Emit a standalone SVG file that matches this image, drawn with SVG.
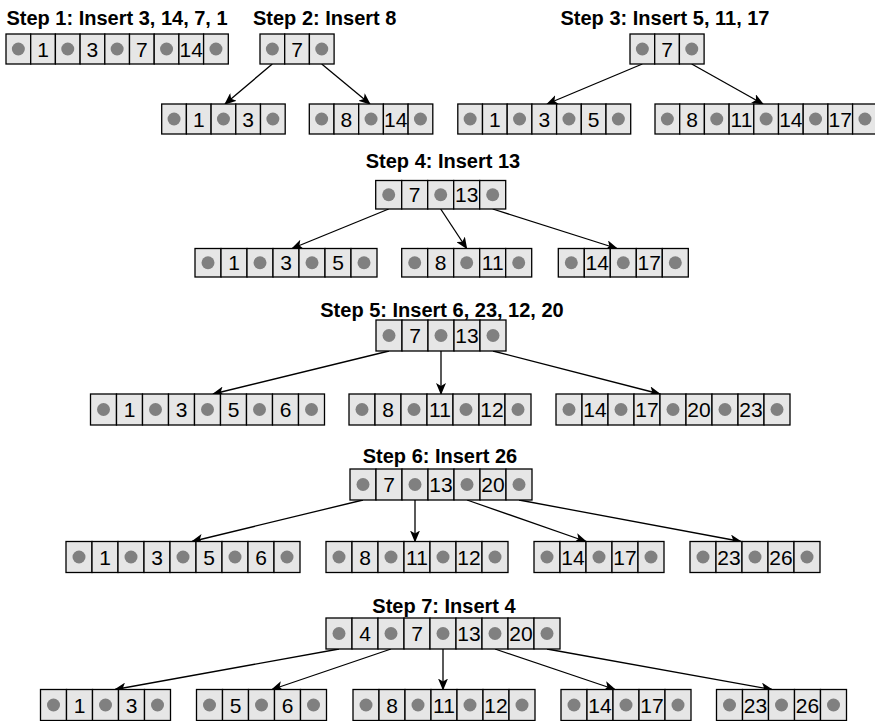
<svg xmlns="http://www.w3.org/2000/svg" xmlns:xlink="http://www.w3.org/1999/xlink" width="875" height="721" viewBox="0 0 875 721">
<style>
.c{fill:#e6e6e6;stroke:#000;stroke-width:1.3}
.d{fill:#808080}
.k{font-family:"Liberation Sans",Arial,sans-serif;font-size:21px;text-anchor:middle;fill:#000}
.t{font-family:"Liberation Sans",Arial,sans-serif;font-size:20px;font-weight:bold;text-anchor:middle;fill:#000}
.e{stroke:#000;stroke-width:1.3;fill:none;marker-end:url(#ah)}
</style>
<defs>
<marker id="ah" viewBox="0 0 12 10" refX="11" refY="5" markerWidth="12" markerHeight="10" markerUnits="userSpaceOnUse" orient="auto"><path d="M0,0 L12,5 L0,10 L3,5 Z" fill="#000"/></marker>
<g id="pa"><rect class="c" width="24.7" height="30"/><circle class="d" cx="12.35" cy="15" r="6.5"/></g>
<rect id="ka" class="c" width="24.7" height="30"/>
<g id="pb"><rect class="c" width="26" height="28.5"/><circle class="d" cx="13" cy="14.25" r="6.5"/></g>
<rect id="kb" class="c" width="26" height="28.5"/>
<g id="pc"><rect class="c" width="26" height="31"/><circle class="d" cx="13" cy="15.5" r="6.5"/></g>
<rect id="kc" class="c" width="26" height="31"/>
</defs>

<g id="titles">
<text class="t" x="117" y="25">Step 1: Insert 3, 14, 7, 1</text>
<text class="t" x="253" y="25" style="text-anchor:start">Step 2: Insert 8</text>
<text class="t" x="665" y="25">Step 3: Insert 5, 11, 17</text>
<text class="t" x="443" y="167.5">Step 4: Insert 13</text>
<text class="t" x="442" y="317">Step 5: Insert 6, 23, 12, 20</text>
<text class="t" x="440" y="462.5">Step 6: Insert 26</text>
<text class="t" x="444" y="612.5">Step 7: Insert 4</text>
</g>

<g id="connectors">
<path class="e" d="M272.3,64 L225,104"/>
<path class="e" d="M321.7,64 L370,104"/>
<path class="e" d="M642.3,64 L547,104"/>
<path class="e" d="M691.7,64 L763,104"/>
<path class="e" d="M388.7,209 L292,248.5"/>
<path class="e" d="M440.7,209 L466.7,248.5"/>
<path class="e" d="M492.7,209 L617,248.5"/>
<path class="e" d="M389,351 L213,394"/>
<path class="e" d="M441,351 L441,394"/>
<path class="e" d="M493,351 L660,394"/>
<path class="e" d="M363,500 L192,541.5"/>
<path class="e" d="M415,500 L415,541.5"/>
<path class="e" d="M467,500 L586,541.5"/>
<path class="e" d="M519,500 L741,541.5"/>
<path class="e" d="M339,649 L115,689.5"/>
<path class="e" d="M391,649 L272,689.5"/>
<path class="e" d="M443,649 L443,689.5"/>
<path class="e" d="M495,649 L615,689.5"/>
<path class="e" d="M547,649 L772,689.5"/>
</g>

<g id="s1-node" transform="translate(6,34)">
<use href="#pa" x="0"/><use href="#ka" x="24.7"/><use href="#pa" x="49.4"/><use href="#ka" x="74.1"/><use href="#pa" x="98.8"/><use href="#ka" x="123.5"/><use href="#pa" x="148.2"/><use href="#ka" x="172.9"/><use href="#pa" x="197.6"/>
<text class="k" x="37.05" y="22.5">1</text><text class="k" x="86.45" y="22.5">3</text><text class="k" x="135.85" y="22.5">7</text><text class="k" x="185.25" y="22.5">14</text>
</g>

<g id="s2-root" transform="translate(260,34)">
<use href="#pa" x="0"/><use href="#ka" x="24.7"/><use href="#pa" x="49.4"/>
<text class="k" x="37.05" y="22.5">7</text>
</g>
<g id="s2-left" transform="translate(161.7,104)">
<use href="#pa" x="0"/><use href="#ka" x="24.7"/><use href="#pa" x="49.4"/><use href="#ka" x="74.1"/><use href="#pa" x="98.8"/>
<text class="k" x="37.05" y="22.5">1</text><text class="k" x="86.45" y="22.5">3</text>
</g>
<g id="s2-right" transform="translate(309.3,104)">
<use href="#pa" x="0"/><use href="#ka" x="24.7"/><use href="#pa" x="49.4"/><use href="#ka" x="74.1"/><use href="#pa" x="98.8"/>
<text class="k" x="37.05" y="22.5">8</text><text class="k" x="86.45" y="22.5">14</text>
</g>

<g id="s3-root" transform="translate(630,34)">
<use href="#pa" x="0"/><use href="#ka" x="24.7"/><use href="#pa" x="49.4"/>
<text class="k" x="37.05" y="22.5">7</text>
</g>
<g id="s3-left" transform="translate(457.8,104)">
<use href="#pa" x="0"/><use href="#ka" x="24.7"/><use href="#pa" x="49.4"/><use href="#ka" x="74.1"/><use href="#pa" x="98.8"/><use href="#ka" x="123.5"/><use href="#pa" x="148.2"/>
<text class="k" x="37.05" y="22.5">1</text><text class="k" x="86.45" y="22.5">3</text><text class="k" x="135.85" y="22.5">5</text>
</g>
<g id="s3-right" transform="translate(655,104)">
<use href="#pa" x="0"/><use href="#ka" x="24.7"/><use href="#pa" x="49.4"/><use href="#ka" x="74.1"/><use href="#pa" x="98.8"/><use href="#ka" x="123.5"/><use href="#pa" x="148.2"/><use href="#ka" x="172.9"/><use href="#pa" x="197.6"/>
<text class="k" x="37.05" y="22.5">8</text><text class="k" x="86.45" y="22.5">11</text><text class="k" x="135.85" y="22.5">14</text><text class="k" x="185.25" y="22.5">17</text>
</g>

<g id="s4-root" transform="translate(375.7,180.5)">
<use href="#pb" x="0"/><use href="#kb" x="26"/><use href="#pb" x="52"/><use href="#kb" x="78"/><use href="#pb" x="104"/>
<text class="k" x="39" y="21.75">7</text><text class="k" x="91" y="21.75">13</text>
</g>
<g id="s4-left" transform="translate(195,248.5)">
<use href="#pb" x="0"/><use href="#kb" x="26"/><use href="#pb" x="52"/><use href="#kb" x="78"/><use href="#pb" x="104"/><use href="#kb" x="130"/><use href="#pb" x="156"/>
<text class="k" x="39" y="21.75">1</text><text class="k" x="91" y="21.75">3</text><text class="k" x="143" y="21.75">5</text>
</g>
<g id="s4-mid" transform="translate(401.7,248.5)">
<use href="#pb" x="0"/><use href="#kb" x="26"/><use href="#pb" x="52"/><use href="#kb" x="78"/><use href="#pb" x="104"/>
<text class="k" x="39" y="21.75">8</text><text class="k" x="91" y="21.75">11</text>
</g>
<g id="s4-right" transform="translate(558.3,248.5)">
<use href="#pb" x="0"/><use href="#kb" x="26"/><use href="#pb" x="52"/><use href="#kb" x="78"/><use href="#pb" x="104"/>
<text class="k" x="39" y="21.75">14</text><text class="k" x="91" y="21.75">17</text>
</g>

<g id="s5-root" transform="translate(376,320)">
<use href="#pc" x="0"/><use href="#kc" x="26"/><use href="#pc" x="52"/><use href="#kc" x="78"/><use href="#pc" x="104"/>
<text class="k" x="39" y="23">7</text><text class="k" x="91" y="23">13</text>
</g>
<g id="s5-left" transform="translate(90.5,394)">
<use href="#pc" x="0"/><use href="#kc" x="26"/><use href="#pc" x="52"/><use href="#kc" x="78"/><use href="#pc" x="104"/><use href="#kc" x="130"/><use href="#pc" x="156"/><use href="#kc" x="182"/><use href="#pc" x="208"/>
<text class="k" x="39" y="23">1</text><text class="k" x="91" y="23">3</text><text class="k" x="143" y="23">5</text><text class="k" x="195" y="23">6</text>
</g>
<g id="s5-mid" transform="translate(349,394)">
<use href="#pc" x="0"/><use href="#kc" x="26"/><use href="#pc" x="52"/><use href="#kc" x="78"/><use href="#pc" x="104"/><use href="#kc" x="130"/><use href="#pc" x="156"/>
<text class="k" x="39" y="23">8</text><text class="k" x="91" y="23">11</text><text class="k" x="143" y="23">12</text>
</g>
<g id="s5-right" transform="translate(556,394)">
<use href="#pc" x="0"/><use href="#kc" x="26"/><use href="#pc" x="52"/><use href="#kc" x="78"/><use href="#pc" x="104"/><use href="#kc" x="130"/><use href="#pc" x="156"/><use href="#kc" x="182"/><use href="#pc" x="208"/>
<text class="k" x="39" y="23">14</text><text class="k" x="91" y="23">17</text><text class="k" x="143" y="23">20</text><text class="k" x="195" y="23">23</text>
</g>

<g id="s6-root" transform="translate(350,469)">
<use href="#pc" x="0"/><use href="#kc" x="26"/><use href="#pc" x="52"/><use href="#kc" x="78"/><use href="#pc" x="104"/><use href="#kc" x="130"/><use href="#pc" x="156"/>
<text class="k" x="39" y="23">7</text><text class="k" x="91" y="23">13</text><text class="k" x="143" y="23">20</text>
</g>
<g id="s6-c1" transform="translate(66,541.5)">
<use href="#pc" x="0"/><use href="#kc" x="26"/><use href="#pc" x="52"/><use href="#kc" x="78"/><use href="#pc" x="104"/><use href="#kc" x="130"/><use href="#pc" x="156"/><use href="#kc" x="182"/><use href="#pc" x="208"/>
<text class="k" x="39" y="23">1</text><text class="k" x="91" y="23">3</text><text class="k" x="143" y="23">5</text><text class="k" x="195" y="23">6</text>
</g>
<g id="s6-c2" transform="translate(326,541.5)">
<use href="#pc" x="0"/><use href="#kc" x="26"/><use href="#pc" x="52"/><use href="#kc" x="78"/><use href="#pc" x="104"/><use href="#kc" x="130"/><use href="#pc" x="156"/>
<text class="k" x="39" y="23">8</text><text class="k" x="91" y="23">11</text><text class="k" x="143" y="23">12</text>
</g>
<g id="s6-c3" transform="translate(534,541.5)">
<use href="#pc" x="0"/><use href="#kc" x="26"/><use href="#pc" x="52"/><use href="#kc" x="78"/><use href="#pc" x="104"/>
<text class="k" x="39" y="23">14</text><text class="k" x="91" y="23">17</text>
</g>
<g id="s6-c4" transform="translate(690,541.5)">
<use href="#pc" x="0"/><use href="#kc" x="26"/><use href="#pc" x="52"/><use href="#kc" x="78"/><use href="#pc" x="104"/>
<text class="k" x="39" y="23">23</text><text class="k" x="91" y="23">26</text>
</g>

<g id="s7-root" transform="translate(326,618)">
<use href="#pc" x="0"/><use href="#kc" x="26"/><use href="#pc" x="52"/><use href="#kc" x="78"/><use href="#pc" x="104"/><use href="#kc" x="130"/><use href="#pc" x="156"/><use href="#kc" x="182"/><use href="#pc" x="208"/>
<text class="k" x="39" y="23">4</text><text class="k" x="91" y="23">7</text><text class="k" x="143" y="23">13</text><text class="k" x="195" y="23">20</text>
</g>
<g id="s7-c1" transform="translate(40.5,689.5)">
<use href="#pc" x="0"/><use href="#kc" x="26"/><use href="#pc" x="52"/><use href="#kc" x="78"/><use href="#pc" x="104"/>
<text class="k" x="39" y="23">1</text><text class="k" x="91" y="23">3</text>
</g>
<g id="s7-c2" transform="translate(196.5,689.5)">
<use href="#pc" x="0"/><use href="#kc" x="26"/><use href="#pc" x="52"/><use href="#kc" x="78"/><use href="#pc" x="104"/>
<text class="k" x="39" y="23">5</text><text class="k" x="91" y="23">6</text>
</g>
<g id="s7-c3" transform="translate(353,689.5)">
<use href="#pc" x="0"/><use href="#kc" x="26"/><use href="#pc" x="52"/><use href="#kc" x="78"/><use href="#pc" x="104"/><use href="#kc" x="130"/><use href="#pc" x="156"/>
<text class="k" x="39" y="23">8</text><text class="k" x="91" y="23">11</text><text class="k" x="143" y="23">12</text>
</g>
<g id="s7-c4" transform="translate(561,689.5)">
<use href="#pc" x="0"/><use href="#kc" x="26"/><use href="#pc" x="52"/><use href="#kc" x="78"/><use href="#pc" x="104"/>
<text class="k" x="39" y="23">14</text><text class="k" x="91" y="23">17</text>
</g>
<g id="s7-c5" transform="translate(716.5,689.5)">
<use href="#pc" x="0"/><use href="#kc" x="26"/><use href="#pc" x="52"/><use href="#kc" x="78"/><use href="#pc" x="104"/>
<text class="k" x="39" y="23">23</text><text class="k" x="91" y="23">26</text>
</g>
</svg>
